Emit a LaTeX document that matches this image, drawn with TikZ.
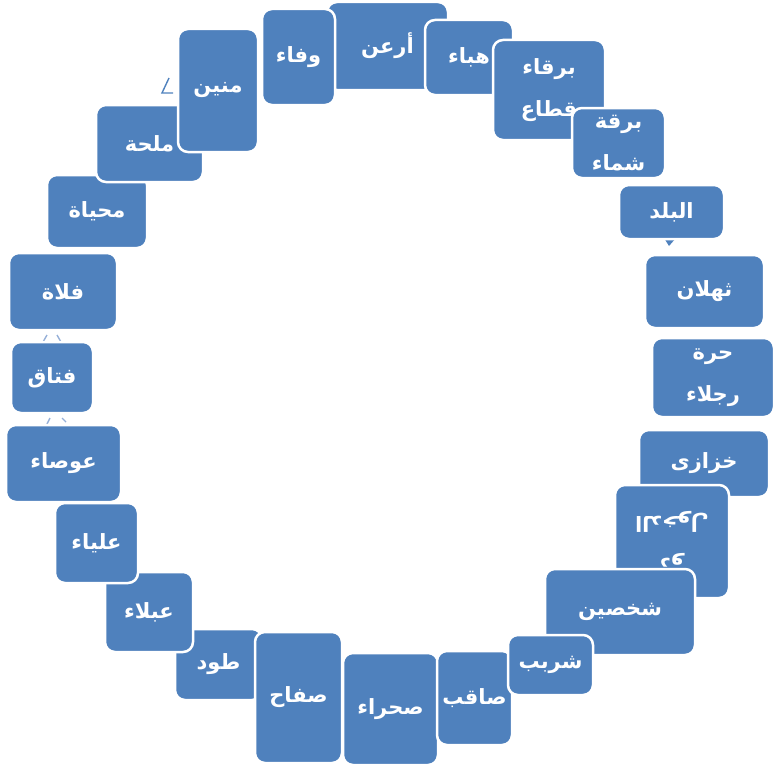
\documentclass[tikz,border=0pt]{standalone}
\usepackage{fontspec}
\usepackage{graphicx}
\TeXXeTstate=1
\newfontfamily\arabicfont[Script=Arabic]{DejaVu Sans}
\definecolor{boxblue}{RGB}{79,129,189}
\definecolor{fadeblue}{RGB}{150,176,216}
\newcommand{\AR}[1]{\beginR #1\endR}
\tikzset{
  bx/.style={draw=white, line width=2.5pt, fill=boxblue, rounded corners=10pt,
    text=white, inner sep=0pt, align=center,
    font=\arabicfont\bfseries\fontsize{21}{42}\selectfont},
  frag/.style={draw=fadeblue, line width=1.4pt},
  fragdark/.style={draw=boxblue, line width=1.4pt},
}
\begin{document}
\begin{tikzpicture}[x=1pt,y=-1pt]
\useasboundingbox (0,0) rectangle (773,768);
\clip (0,0) rectangle (773,768);
% faint connector fragments
\coordinate (f1a) at (43,342); \coordinate (f1b) at (47,335);
\coordinate (f1c) at (57,335); \coordinate (f1d) at (61,342);
\draw[frag] (f1a) -- (f1b); \draw[frag] (f1c) -- (f1d);
\coordinate (f2a) at (47,424); \coordinate (f2b) at (50,418);
\coordinate (f2c) at (62,418); \coordinate (f2d) at (66,422);
\draw[frag] (f2a) -- (f2b); \draw[frag] (f2c) -- (f2d);
\coordinate (g1) at (169,78); \coordinate (g2) at (162,93); \coordinate (g3) at (173,93);
\draw[fragdark] (g1) -- (g2) -- (g3);
\coordinate (t1) at (664,238); \coordinate (t2) at (676,238); \coordinate (t3) at (669,246);
\fill[boxblue] (t1) -- (t2) -- (t3) -- cycle;
% boxes (drawing order = stacking order)
\node[bx, minimum width=121pt, minimum height=88pt] (n1) at (387.5,46) {\AR{أرعن}};
\node[bx, minimum width=73pt, minimum height=96pt] (n2) at (298.5,57) {\AR{وفاء}};
\node[bx, minimum width=88pt, minimum height=75pt] (n3) at (469,57.5) {\AR{هباء}};
\node[bx, minimum width=112pt, minimum height=100pt] (n4) at (549,90) {\AR{برقاء}\\\AR{قطاع}};
\node[bx, minimum width=93pt, minimum height=70pt] (n5) at (618.5,143) {\AR{برقة}\\\AR{شماء}};
\node[bx, minimum width=105pt, minimum height=54pt] (n6) at (671.5,212) {\AR{البلد}};
\node[bx, minimum width=119pt, minimum height=73pt] (n7) at (704.5,291.5) {\AR{ثهلان}};
\node[bx, minimum width=122pt, minimum height=79pt] (n8) at (713,377.5) {\AR{حرة}\\\AR{رجلاء}};
\node[bx, minimum width=130pt, minimum height=67pt] (n9) at (704,463.5) {\AR{خزازى}};
\node[bx, rotate=180, minimum width=114pt, minimum height=113pt] (n10) at (672,541.5) {\AR{ذو}\\\AR{الدخول}};
\node[bx, minimum width=150pt, minimum height=86pt] (n11) at (620,612) {\AR{شخصين}};
\node[bx, minimum width=87pt, minimum height=71pt] (n16) at (218.5,664.5) {\AR{طود}};
\node[bx, minimum width=87pt, minimum height=131pt] (n15) at (298.5,697.5) {\AR{صفاح}};
\node[bx, minimum width=95pt, minimum height=112pt] (n14) at (390.5,709) {\AR{صحراء}};
\node[bx, minimum width=75pt, minimum height=94pt] (n13) at (474.5,698) {\AR{صاقب}};
\node[bx, minimum width=85pt, minimum height=60pt] (n12) at (550.5,665) {\AR{شربب}};
\node[bx, minimum width=88pt, minimum height=80pt] (n17) at (149,612) {\AR{عبلاء}};
\node[bx, minimum width=115pt, minimum height=77pt] (n19) at (63.5,463.5) {\AR{عوصاء}};
\node[bx, minimum width=83pt, minimum height=80pt] (n18) at (96.5,543) {\AR{علياء}};
\node[bx, minimum width=82pt, minimum height=71pt] (n20) at (52,377.5) {\AR{فتاق}};
\node[bx, minimum width=108pt, minimum height=77pt] (n21) at (63,291.5) {\AR{فلاة}};
\node[bx, minimum width=100pt, minimum height=73pt] (n22) at (97,211.5) {\AR{محياة}};
\node[bx, minimum width=107pt, minimum height=77pt] (n23) at (149.5,143.5) {\AR{ملحة}};
\node[bx, minimum width=80pt, minimum height=123pt] (n24) at (218,90.5) {\AR{منين}};
\end{tikzpicture}
\end{document}
